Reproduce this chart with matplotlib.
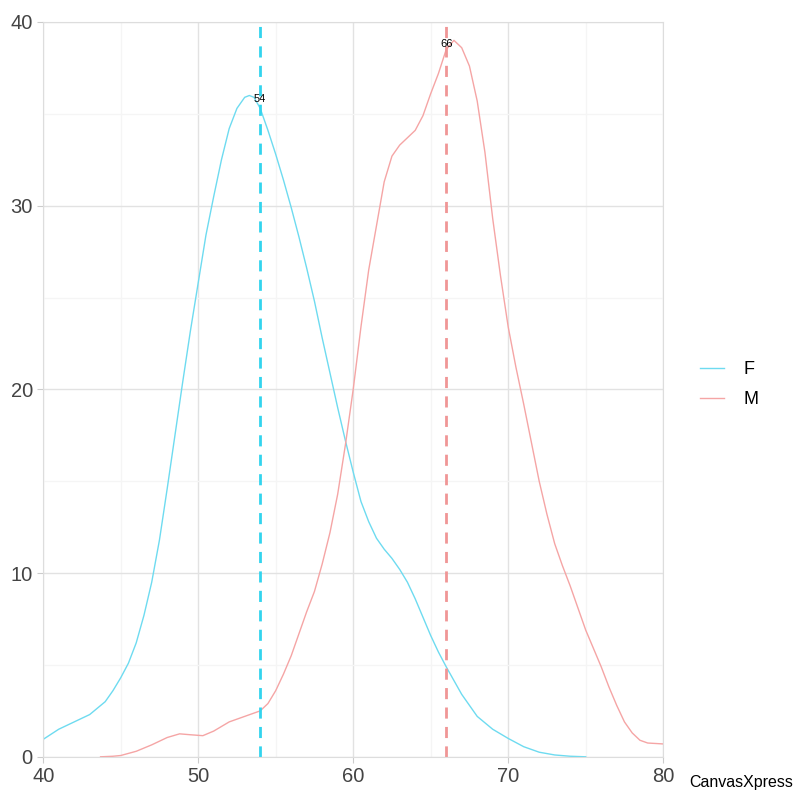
import matplotlib
matplotlib.use("Agg")
import matplotlib.pyplot as plt
from matplotlib.ticker import MultipleLocator

plt.rcParams["font.family"] = ["Liberation Sans", "DejaVu Sans"]

# density curves
f_x = [40, 41, 42, 43, 44, 44.5, 45, 45.5, 46, 46.5, 47, 47.5, 48, 48.5, 49, 49.5, 50, 50.5,
       51, 51.5, 52, 52.5, 53, 53.3, 53.6, 54, 54.5, 55, 55.5, 56, 56.5, 57, 57.5, 58, 58.5,
       59, 59.5, 60, 60.5, 61, 61.5, 62, 62.5, 63, 63.5, 64, 64.5, 65, 65.5, 66, 67, 68, 69,
       70, 71, 72, 73, 74, 75]
f_y = [0.95, 1.5, 1.9, 2.3, 3.0, 3.6, 4.3, 5.1, 6.2, 7.7, 9.5, 11.8, 14.6, 17.5, 20.4, 23.2,
       25.8, 28.4, 30.5, 32.5, 34.2, 35.3, 35.9, 36.0, 35.9, 35.3, 34.1, 32.8, 31.4, 29.9, 28.3,
       26.6, 24.8, 22.8, 20.9, 19.0, 17.2, 15.5, 13.9, 12.8, 11.9, 11.3, 10.8, 10.2, 9.5, 8.6,
       7.6, 6.6, 5.7, 4.9, 3.4, 2.2, 1.5, 1.0, 0.55, 0.25, 0.1, 0.03, 0.0]

m_x = [43.7, 44.5, 45, 46, 47, 48, 48.8, 49.5, 50.3, 51, 52, 53, 54, 54.5, 55, 55.5, 56, 56.5,
       57, 57.5, 58, 58.5, 59, 59.5, 60, 60.5, 61, 61.5, 62, 62.5, 63, 63.5, 64, 64.5, 65,
       65.5, 66, 66.5, 67, 67.5, 68, 68.5, 69, 69.5, 70, 70.5, 71, 71.5, 72, 72.5, 73, 73.5,
       74, 74.5, 75, 75.5, 76, 76.5, 77, 77.5, 78, 78.5, 79, 80]
m_y = [0.0, 0.03, 0.07, 0.3, 0.65, 1.05, 1.25, 1.2, 1.15, 1.4, 1.9, 2.2, 2.5, 2.9, 3.6, 4.5,
       5.5, 6.7, 7.9, 9.0, 10.5, 12.2, 14.3, 17.0, 20.0, 23.4, 26.5, 28.9, 31.3, 32.7, 33.3,
       33.7, 34.1, 34.9, 36.1, 37.2, 38.5, 39.0, 38.6, 37.6, 35.7, 32.9, 29.3, 26.2, 23.4,
       21.2, 19.2, 17.1, 15.0, 13.2, 11.6, 10.4, 9.3, 8.1, 6.9, 5.9, 4.9, 3.8, 2.8, 1.9, 1.3,
       0.9, 0.75, 0.7]

groups = ["F", "M"]
means = [54, 66]
label_y = [35.8, 38.8]
line_colors = ["#6edbf0", "#f5a5a5"]
dash_colors = ["#33d4ee", "#f09696"]

fig = plt.figure(figsize=(8, 8), dpi=100)
ax = fig.add_axes([0.054, 0.054, 0.775, 0.9185])

ax.plot(f_x, f_y, color=line_colors[0], lw=1, label=groups[0])
ax.plot(m_x, m_y, color=line_colors[1], lw=1, label=groups[1])

for mean, ly, col in zip(means, label_y, dash_colors):
    ax.axvline(mean, color=col, lw=2, ls=(0, (4, 3)))
    ax.text(mean, ly, str(mean), fontsize=8, ha="center", va="center", color="black")

ax.set_xlim(40, 80)
ax.set_ylim(0, 40)
ax.xaxis.set_major_locator(MultipleLocator(10))
ax.yaxis.set_major_locator(MultipleLocator(10))
ax.xaxis.set_minor_locator(MultipleLocator(5))
ax.yaxis.set_minor_locator(MultipleLocator(5))
ax.grid(which="major", color="#e2e2e2", lw=1)
ax.grid(which="minor", color="#f5f5f5", lw=1)
ax.set_axisbelow(True)

for side in ["top", "right", "left", "bottom"]:
    ax.spines[side].set_color("#dddddd")
ax.tick_params(which="major", length=4, color="#cccccc", labelsize=14.5, labelcolor="#444444")
ax.tick_params(which="minor", length=0)

fig.legend(loc="center left", bbox_to_anchor=(0.855, 0.519), frameon=False, fontsize=13,
           handlelength=1.3, handletextpad=1.1, labelspacing=0.7)

fig.text(0.991, 0.012, "CanvasXpress", ha="right", va="bottom", fontsize=11.5, color="black")

fig.savefig("out.png", dpi=100)
